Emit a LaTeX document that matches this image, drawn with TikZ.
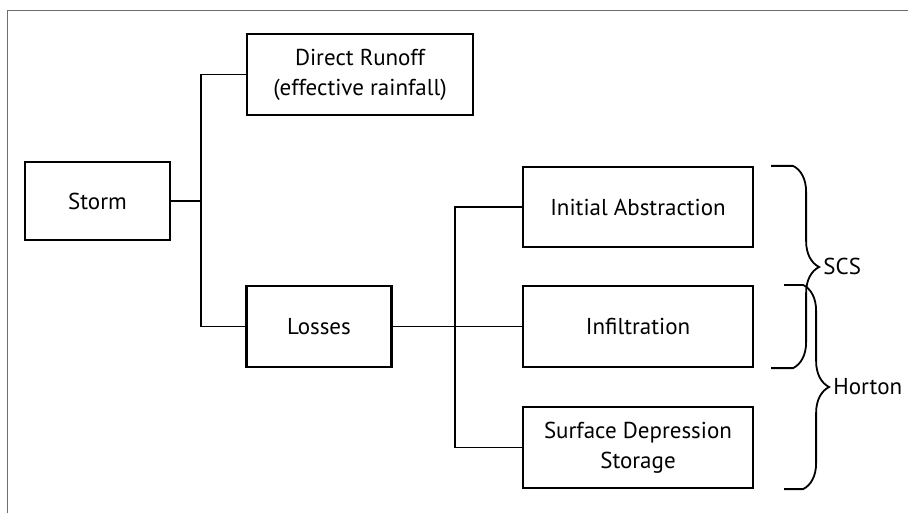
\documentclass[tikz,border=0pt]{standalone}
\usepackage{fontspec}
\setmainfont{PT Sans}
\usetikzlibrary{calc,shadows,decorations.pathreplacing}

\begin{document}
\begin{tikzpicture}[x=0.5pt,y=-0.5pt,
    hydro_box/.style={shape=rectangle,draw,line width=1.1pt,fill=white,align=center,
      font=\fontsize{11.5}{15}\selectfont,inner sep=0pt,
      drop shadow={shadow xshift=0.7pt,shadow yshift=-0.7pt,opacity=0.35}},
    hydro_line/.style={line width=0.9pt},
    hydro_brace/.style={line width=0.9pt,decoration={brace,amplitude=13pt}},
    hydro_label/.style={anchor=west,inner sep=0pt,font=\fontsize{11.5}{15}\selectfont}]
    \definecolor{hydro_frame}{RGB}{110,110,110}
    \useasboundingbox (0,0) rectangle (908,513);
    \draw[hydro_frame,line width=0.8pt] (7.5,513) -- (7.5,10.5) -- (908,10.5);
    % boxes
    \node[hydro_box,minimum width=72.5pt,minimum height=39pt]  (storm)  at (97.5,201)  {Storm};
    \node[hydro_box,minimum width=113pt,minimum height=40.5pt] (runoff) at (360,74.5)  {Direct Runoff\\(effective rainfall)};
    \node[hydro_box,minimum width=72.5pt,minimum height=40.5pt] (losses) at (319,326.5) {Losses};
    \node[hydro_box,minimum width=115pt,minimum height=40pt]   (ia)     at (638,207)   {Initial Abstraction};
    \node[hydro_box,minimum width=115pt,minimum height=40.5pt] (infil)  at (638,326.5) {Infiltration};
    \node[hydro_box,minimum width=115pt,minimum height=40.5pt] (sds)    at (638,447.5) {Surface Depression\\Storage};
    % connectors
    \coordinate (j1) at (201,201);
    \coordinate (j2) at (455,326.5);
    \draw[hydro_line] (storm.east) -- (j1);
    \draw[hydro_line] (runoff.west) -| (j1) |- (losses.west);
    \draw[hydro_line] (losses.east) -- (infil.west);
    \draw[hydro_line] (ia.west) -| (j2) |- (sds.west);
    % braces
    \draw[hydro_line] ($(ia.north east)+(17,0)$) -- ($(ia.north east)+(39,0)$)
      decorate[hydro_brace]{ -- ($(infil.south east)+(39,0)$)} -- ($(infil.south east)+(17,0)$);
    \draw[hydro_line] ($(infil.north east)+(30,0)$) -- ($(infil.north east)+(49,0)$)
      decorate[hydro_brace]{ -- ($(sds.south east)+(49,0)$)} -- ($(sds.south east)+(30,0)$);
    \node[hydro_label] (scs)    at (823,266) {SCS};
    \node[hydro_label] (horton) at (833,387) {Horton};
\end{tikzpicture}
\end{document}
